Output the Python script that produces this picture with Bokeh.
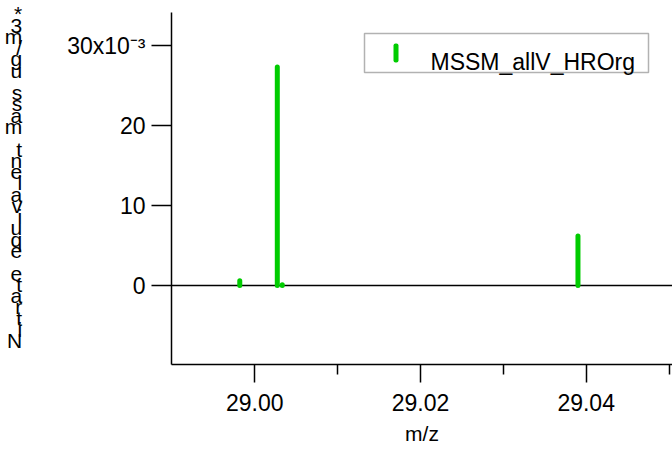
from bokeh.plotting import figure
from bokeh.models import (Range1d, FixedTicker, PrintfTickFormatter, Span, Label,
                          BoxAnnotation, ColumnDataSource)
from bokeh.embed import file_html
from bokeh.resources import INLINE

# ---- data ----
mz = [28.99819, 29.00272, 29.00332, 29.03901]
intensity = [0.0006, 0.0273, 0.0001, 0.0062]
series_name = "MSSM_allV_HROrg"
x_label = "m/z"
y_label = "Nitrate equivalent mass ug/m3*"
x_ticks = [29.00, 29.02, 29.04]
x_minor_ticks = [29.01, 29.03, 29.05]
y_ticks = [0.0, 0.01, 0.02, 0.03]
y_tick_labels = ["0", "10", "20", "30x10\u207b\u00b3"]

# ---- style / layout ----
FONT = "Liberation Sans"
GREEN = "#00CC00"
W, H = 672, 450
LEFT, RIGHT, TOP, BOTTOM = 171, 0, 12, 86
FRAME_BOTTOM = H - BOTTOM


def fx(sx):
    return sx - LEFT


def fy(sy):
    return FRAME_BOTTOM - sy


p = figure(width=W, height=H, output_backend="svg", toolbar_location=None,
           x_range=Range1d(28.98995, 29.05042), y_range=Range1d(-0.009875, 0.034125),
           min_border_left=LEFT, min_border_right=RIGHT,
           min_border_top=TOP, min_border_bottom=BOTTOM)
p.outline_line_color = None
p.xgrid.visible = False
p.ygrid.visible = False
p.background_fill_color = "white"
p.border_fill_color = "white"

src = ColumnDataSource(dict(mz=mz, base=[0.0] * len(mz), intensity=intensity))

zero = Span(location=0, dimension="width", line_color="black", line_width=1.5,
            level="underlay")
p.add_layout(zero)

p.segment(x0="mz", y0="base", x1="mz", y1="intensity", source=src,
          line_color=GREEN, line_width=5, line_cap="round")

# x axis
xa = p.xaxis[0]
xa.ticker = FixedTicker(ticks=x_ticks, minor_ticks=x_minor_ticks)
xa.formatter = PrintfTickFormatter(format="%.2f")
xa.axis_line_width = 1.5
xa.major_tick_line_width = 1.5
xa.minor_tick_line_width = 1.5
xa.major_tick_out = 18
xa.major_tick_in = 0
xa.minor_tick_out = 10
xa.minor_tick_in = 0
xa.major_label_text_font = FONT
xa.major_label_text_font_size = "23px"
xa.major_label_text_color = "black"
xa.major_label_standoff = 11
xa.axis_label = x_label
xa.axis_label_text_font = FONT
xa.axis_label_text_font_size = "21px"
xa.axis_label_text_font_style = "normal"
xa.axis_label_text_color = "black"
xa.axis_label_standoff = 8

# y axis
ya = p.yaxis[0]
ya.ticker = FixedTicker(ticks=y_ticks, minor_ticks=[])
ya.major_label_overrides = {t: lab for t, lab in zip(y_ticks, y_tick_labels)}
ya.axis_line_width = 1.5
ya.major_tick_line_width = 1.5
ya.major_tick_out = 20
ya.major_tick_in = 0
ya.minor_tick_out = 0
ya.minor_tick_in = 0
ya.major_label_text_font = FONT
ya.major_label_text_font_size = "23px"
ya.major_label_text_color = "black"
ya.major_label_standoff = 6

# stacked y-axis title: characters one per line, top to bottom reversed
ya.axis_label = "\n".join(list(reversed(y_label)) + [" ", " "])
ya.axis_label_orientation = "horizontal"
ya.axis_label_text_font = FONT
ya.axis_label_text_font_size = "21px"
ya.axis_label_text_font_style = "normal"
ya.axis_label_text_color = "black"
ya.axis_label_text_line_height = 0.49
ya.axis_label_text_align = "center"
ya.axis_label_standoff = 42

# legend (drawn by hand so the symbol is a short vertical stick)
p.add_layout(BoxAnnotation(left=fx(364), right=fx(648), top=fy(33), bottom=fy(72),
                           left_units="screen", right_units="screen",
                           top_units="screen", bottom_units="screen",
                           fill_color="white", fill_alpha=1.0,
                           line_color="black", line_width=1.5))
p.add_layout(BoxAnnotation(left=fx(393), right=fx(398), top=fy(43), bottom=fy(62),
                           left_units="screen", right_units="screen",
                           top_units="screen", bottom_units="screen",
                           fill_color=GREEN, fill_alpha=1.0, line_color=None,
                           border_radius=2))
p.add_layout(Label(text=series_name, x=fx(430), y=fy(61), x_units="screen", y_units="screen",
                   text_font=FONT, text_font_size="23px", text_color="black",
                   text_baseline="alphabetic", text_align="left"))

open("out.html", "w").write(file_html(p, INLINE))
